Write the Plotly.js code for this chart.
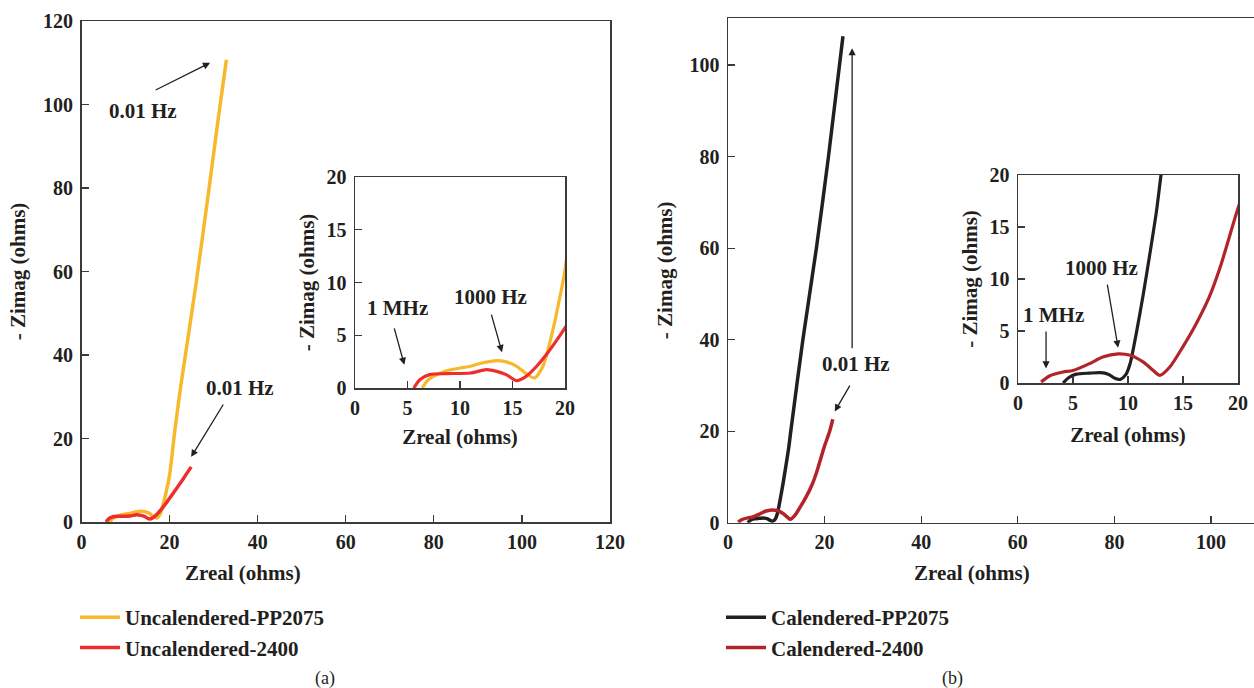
<!DOCTYPE html>
<html>
<head>
<meta charset="utf-8">
<script src="https://cdn.plot.ly/plotly-3.0.1.min.js"></script>
<style>
html,body{margin:0;padding:0;background:#fff;}
#chart{width:1254px;height:688px;}
</style>
</head>
<body>
<div id="chart"></div>
<script>
// ---- Data ----
const seriesNames = ["Uncalendered-PP2075", "Uncalendered-2400", "Calendered-PP2075", "Calendered-2400"];

const unc2075X = [6.4, 7.0, 8.1, 9.0, 10.0, 11.0, 12.0, 13.5, 14.4, 15.4, 16.3, 17.1, 17.9, 18.7, 19.2, 20.0, 21.2, 22.6, 26.0, 29.1, 31.1, 32.9];
const unc2075Y = [0.0, 0.8, 1.4, 1.7, 1.9, 2.06, 2.35, 2.6, 2.48, 2.06, 1.36, 0.95, 2.06, 4.9, 7.1, 11.2, 22.0, 33.0, 57.0, 81.0, 97.0, 110.7];

const unc2400X = [5.6, 6.2, 7.1, 8.7, 11.0, 12.5, 13.5, 14.4, 15.4, 16.3, 17.3, 18.1, 19.05, 20.0, 21.5, 23.0, 24.9];
const unc2400Y = [0.0, 0.8, 1.27, 1.36, 1.42, 1.74, 1.58, 1.27, 0.7, 1.1, 2.06, 3.0, 4.3, 5.7, 7.9, 10.2, 13.2];

const cal2075X = [4.1, 4.6, 5.3, 6.5, 7.5, 8.2, 8.8, 9.3, 9.8, 10.2, 10.75, 11.4, 12.0, 12.6, 13.0, 15.5, 18.3, 20.8, 23.8];
const cal2075Y = [0.0, 0.5, 0.85, 0.95, 1.0, 0.85, 0.45, 0.35, 0.8, 1.9, 4.75, 8.6, 12.5, 16.6, 20.0, 40.0, 60.0, 80.0, 106.3];

const cal2400X = [2.1, 2.9, 4.1, 5.0, 6.5, 7.7, 9.1, 10.2, 11.4, 12.3, 12.9, 13.8, 15.0, 16.2, 17.4, 18.4, 20.0, 21.0, 21.7];
const cal2400Y = [0.1, 0.7, 1.06, 1.2, 1.86, 2.5, 2.8, 2.66, 2.0, 1.2, 0.74, 1.54, 3.5, 5.7, 8.3, 11.2, 16.8, 19.8, 22.6];

const mainXTicksA = [0, 20, 40, 60, 80, 100, 120];
const mainYTicksA = [0, 20, 40, 60, 80, 100, 120];
const mainXTicksB = [0, 20, 40, 60, 80, 100];
const mainYTicksB = [0, 20, 40, 60, 80, 100];
const insetTicks = [0, 5, 10, 15, 20];

// ---- Styles ----
const F = "Liberation Serif, Times New Roman, serif";
const INK = "#231F20";
const colors = ["#F7B82A", "#EE2D2D", "#231F20", "#B3242A"];
const W = 1254, H = 688;
const px = v => v / W, py = v => 1 - v / H;

function line(x, y, xa, ya, color, width, name, show, legend) {
  return {x: x, y: y, xaxis: xa, yaxis: ya, type: "scatter", mode: "lines",
    name: name, showlegend: show, legend: legend,
    line: {color: color, width: width, shape: "spline", smoothing: 0.7},
    hoverinfo: "skip"};
}

const data = [
  line(unc2075X, unc2075Y, "x", "y", colors[0], 3.5, seriesNames[0], true, "legend"),
  line(unc2400X, unc2400Y, "x", "y", colors[1], 3.5, seriesNames[1], true, "legend"),
  line(unc2075X, unc2075Y, "x2", "y2", colors[0], 3.2, seriesNames[0], false, "legend"),
  line(unc2400X, unc2400Y, "x2", "y2", colors[1], 3.2, seriesNames[1], false, "legend"),
  line(cal2075X, cal2075Y, "x3", "y3", colors[2], 3.5, seriesNames[2], true, "legend2"),
  line(cal2400X, cal2400Y, "x3", "y3", colors[3], 3.5, seriesNames[3], true, "legend2"),
  line(cal2075X, cal2075Y, "x4", "y4", colors[2], 3.2, seriesNames[2], false, "legend2"),
  line(cal2400X, cal2400Y, "x4", "y4", colors[3], 3.2, seriesNames[3], false, "legend2")
];

function axis(extra) {
  return Object.assign({
    showline: true, linecolor: "#3a3a3a", linewidth: 1.5, mirror: true,
    ticks: "inside", ticklen: 7, tickwidth: 1.3, tickcolor: "#3a3a3a",
    showgrid: false, zeroline: false, fixedrange: true,
    tickmode: "array", ticklabelstandoff: 3,
    tickfont: {family: F, size: 20, color: INK, weight: "bold"}
  }, extra);
}
const titleFont = {family: F, size: 21, color: INK, weight: "bold"};

const layout = {
  width: W, height: H,
  margin: {l: 0, r: 0, t: 0, b: 0},
  paper_bgcolor: "#fff", plot_bgcolor: "rgba(0,0,0,0)",
  showlegend: true,
  font: {family: F, color: INK},
  xaxis: axis({domain: [px(81.5), px(610)], range: [0, 120], tickvals: mainXTicksA, anchor: "y", ticklabelstandoff: 1}),
  yaxis: axis({domain: [py(522), py(21)], range: [0, 120], tickvals: mainYTicksA, anchor: "x",
    title: {text: "- Zimag (ohms)", font: titleFont, standoff: 11}}),
  xaxis2: axis({domain: [px(355), px(565)], range: [0, 20], tickvals: insetTicks, anchor: "y2", ticklabelstandoff: 1,
    title: {text: "Zreal (ohms)", font: titleFont, standoff: 12}}),
  yaxis2: axis({domain: [py(388), py(177)], range: [0, 20], tickvals: insetTicks, anchor: "x2",
    title: {text: "- Zimag (ohms)", font: titleFont, standoff: 6}}),
  xaxis3: axis({domain: [px(728), 1], range: [0, 108.9], tickvals: mainXTicksB, anchor: "y3", ticklabelstandoff: 1}),
  yaxis3: axis({domain: [py(522.7), py(18)], range: [0, 110.3], tickvals: mainYTicksB, anchor: "x3", mirror: false,
    title: {text: "- Zimag (ohms)", font: titleFont, standoff: 11}}),
  xaxis4: axis({domain: [px(1018), px(1238)], range: [0, 20], tickvals: insetTicks, anchor: "y4", ticklabelstandoff: 1,
    title: {text: "Zreal (ohms)", font: titleFont, standoff: 15}}),
  yaxis4: axis({domain: [py(383), py(175)], range: [0, 20], tickvals: insetTicks, anchor: "x4",
    title: {text: "- Zimag (ohms)", font: titleFont, standoff: 6}}),
  legend: {x: px(75), xanchor: "left", y: py(597), yanchor: "top", bgcolor: "rgba(0,0,0,0)",
    font: {family: F, size: 21, color: INK, weight: "bold"}, itemwidth: 40, orientation: "v"},
  legend2: {x: px(721), xanchor: "left", y: py(597), yanchor: "top", bgcolor: "rgba(0,0,0,0)",
    font: {family: F, size: 21, color: INK, weight: "bold"}, itemwidth: 40, orientation: "v"},
  annotations: []
};

const ann = layout.annotations;
function txt(x, y, xr, yr, t, size, weight) {
  ann.push({x: x, y: y, xref: xr, yref: yr, text: t, showarrow: false,
    font: {family: F, size: size || 21, color: INK, weight: weight || "bold"},
    xanchor: "center", yanchor: "middle"});
}
function arrow(x, y, ax, ay, xr, yr) {
  ann.push({x: x, y: y, ax: ax, ay: ay, xref: xr, yref: yr, axref: xr, ayref: yr,
    text: "", showarrow: true, arrowhead: 2, arrowsize: 1.1, arrowwidth: 1.3,
    arrowcolor: INK, standoff: 0, startstandoff: 0});
}
// main x-axis titles
txt(px(243), py(573), "paper", "paper", "Zreal (ohms)");
txt(px(972), py(573), "paper", "paper", "Zreal (ohms)");
// panel labels
txt(px(325), py(678), "paper", "paper", "(a)", 18, "normal");
txt(px(952), py(678), "paper", "paper", "(b)", 18, "normal");
// panel (a) main
txt(13.9, 98.4, "x", "y", "0.01 Hz");
arrow(29.2, 110, 16.5, 103.3, "x", "y");
txt(36, 32.1, "x", "y", "0.01 Hz");
arrow(24.9, 15.6, 32.4, 28.5, "x", "y");
// panel (a) inset
txt(4.0, 7.6, "x2", "y2", "1 MHz");
arrow(4.7, 2.2, 3.7, 5.8, "x2", "y2");
txt(12.9, 8.6, "x2", "y2", "1000 Hz");
arrow(14.0, 3.4, 12.95, 7.1, "x2", "y2");
// panel (b) main
arrow(25.7, 103.7, 25.7, 37.8, "x3", "y3");
txt(26.5, 34.7, "x3", "y3", "0.01 Hz");
arrow(22.1, 24.3, 25.4, 30.3, "x3", "y3");
// panel (b) inset
txt(3.2, 6.5, "x4", "y4", "1 MHz");
arrow(2.55, 1.4, 2.55, 5.1, "x4", "y4");
txt(7.6, 11.05, "x4", "y4", "1000 Hz");
arrow(9.1, 3.4, 8.1, 9.6, "x4", "y4");

Plotly.newPlot("chart", data, layout, {staticPlot: true, displayModeBar: false});
</script>
</body>
</html>
